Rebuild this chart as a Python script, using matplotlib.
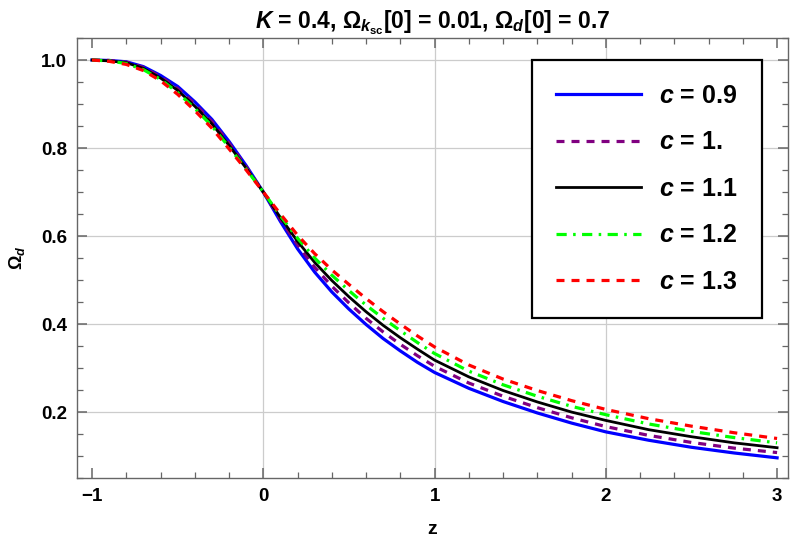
import matplotlib
matplotlib.use('Agg')
import matplotlib.pyplot as plt
from matplotlib.ticker import MultipleLocator

# values
z = [-1, -0.9, -0.8, -0.7, -0.6, -0.5, -0.4, -0.3, -0.2, -0.1, 0, 0.1, 0.2, 0.3, 0.4,
     0.5, 0.6, 0.7, 0.8, 0.9, 1.0, 1.2, 1.4, 1.6, 1.8, 2.0, 2.25, 2.5, 2.75, 3.0]

omega_c09 = [1.000, 0.999, 0.996, 0.985, 0.965, 0.940, 0.905, 0.865, 0.815, 0.760, 0.700,
             0.633, 0.571, 0.518, 0.473, 0.434, 0.399, 0.367, 0.339, 0.313, 0.290,
             0.254, 0.224, 0.198, 0.175, 0.155, 0.136, 0.120, 0.107, 0.096]
omega_c10 = [1.000, 0.999, 0.995, 0.983, 0.962, 0.935, 0.900, 0.860, 0.811, 0.757, 0.700,
             0.638, 0.580, 0.529, 0.486, 0.448, 0.413, 0.382, 0.354, 0.328, 0.304,
             0.266, 0.236, 0.210, 0.187, 0.167, 0.147, 0.131, 0.118, 0.108]
omega_c11 = [1.000, 0.998, 0.994, 0.981, 0.959, 0.931, 0.895, 0.855, 0.806, 0.754, 0.700,
             0.642, 0.588, 0.540, 0.499, 0.462, 0.428, 0.397, 0.369, 0.343, 0.318,
             0.280, 0.249, 0.223, 0.200, 0.181, 0.160, 0.144, 0.130, 0.119]
omega_c12 = [1.000, 0.998, 0.992, 0.978, 0.956, 0.926, 0.890, 0.850, 0.802, 0.752, 0.700,
             0.646, 0.595, 0.550, 0.511, 0.476, 0.443, 0.413, 0.385, 0.358, 0.333,
             0.293, 0.262, 0.236, 0.213, 0.194, 0.173, 0.156, 0.142, 0.130]
omega_c13 = [1.000, 0.997, 0.990, 0.976, 0.953, 0.922, 0.885, 0.845, 0.798, 0.750, 0.700,
             0.650, 0.602, 0.560, 0.523, 0.490, 0.458, 0.428, 0.400, 0.373, 0.348,
             0.307, 0.275, 0.249, 0.226, 0.206, 0.185, 0.168, 0.153, 0.140]

labels = [r'$c$ = 0.9', r'$c$ = 1.', r'$c$ = 1.1', r'$c$ = 1.2', r'$c$ = 1.3']


def main():
    plt.rcParams['font.family'] = ['Liberation Sans', 'DejaVu Sans']
    plt.rcParams['font.weight'] = 'bold'
    plt.rcParams['mathtext.fontset'] = 'custom'
    plt.rcParams['mathtext.rm'] = 'Liberation Sans:bold'
    plt.rcParams['mathtext.bf'] = 'Liberation Sans:bold'
    plt.rcParams['mathtext.it'] = 'Liberation Sans:italic:bold'

    fig = plt.figure(figsize=(7.92, 5.47), dpi=100)
    ax = fig.add_axes([0.0972, 0.126, 0.8978, 0.8045])

    ax.plot(z, omega_c09, color='#0000ff', lw=2.3, label=labels[0])
    ax.plot(z, omega_c10, color='#800080', lw=2.3, dashes=(2.5, 2.2), label=labels[1])
    ax.plot(z, omega_c11, color='black', lw=2.0, label=labels[2])
    ax.plot(z, omega_c12, color='#00ff00', lw=2.3, dashes=(3.2, 2.0, 0.8, 2.0), label=labels[3])
    ax.plot(z, omega_c13, color='#ff0000', lw=2.3, dashes=(2.5, 2.2), label=labels[4])

    ax.set_xlim(-1.088, 3.064)
    ax.set_ylim(0.05, 1.05)
    ax.xaxis.set_major_locator(MultipleLocator(1))
    ax.xaxis.set_minor_locator(MultipleLocator(0.2))
    ax.yaxis.set_major_locator(MultipleLocator(0.2))
    ax.yaxis.set_minor_locator(MultipleLocator(0.05))
    ax.set_yticks([0.2, 0.4, 0.6, 0.8, 1.0])
    ax.set_yticklabels(['0.2', '0.4', '0.6', '0.8', '1.0'])
    ax.set_xticks([-1, 0, 1, 2, 3])
    ax.set_xticklabels(['\u22121', '0', '1', '2', '3'])

    ax.grid(True, which='major', color='#cccccc', lw=0.9)
    for tick in ax.xaxis.get_major_ticks():
        if tick.get_loc() in (-1, 3):
            tick.gridline.set_visible(False)

    ax.tick_params(which='both', direction='in', top=True, right=True, color='#666666',
                   labelsize=13.5, pad=7)
    ax.tick_params(which='major', length=7, width=1.1)
    ax.tick_params(which='minor', length=4, width=0.9)
    for s in ax.spines.values():
        s.set_color('#666666')
        s.set_linewidth(1.0)

    ax.set_title(r'$K$ = 0.4, $\Omega_{k_{\mathrm{sc}}}$[0] = 0.01, $\Omega_d$[0] = 0.7',
                 fontsize=16.5, fontweight='bold', pad=7)
    ax.set_xlabel('z', fontsize=14, fontweight='bold', labelpad=12)
    ax.set_ylabel(r'$\Omega_d$', fontsize=13, labelpad=10)

    leg = ax.legend(loc='upper right', bbox_to_anchor=(0.963, 0.95), borderaxespad=0,
                    fontsize=18, handlelength=3.4, labelspacing=0.9, borderpad=0.95,
                    handletextpad=0.75, fancybox=False, framealpha=1, edgecolor='black')
    leg.get_frame().set_linewidth(1.6)

    fig.savefig('out.png', dpi=100)


if __name__ == "__main__":
    main()
